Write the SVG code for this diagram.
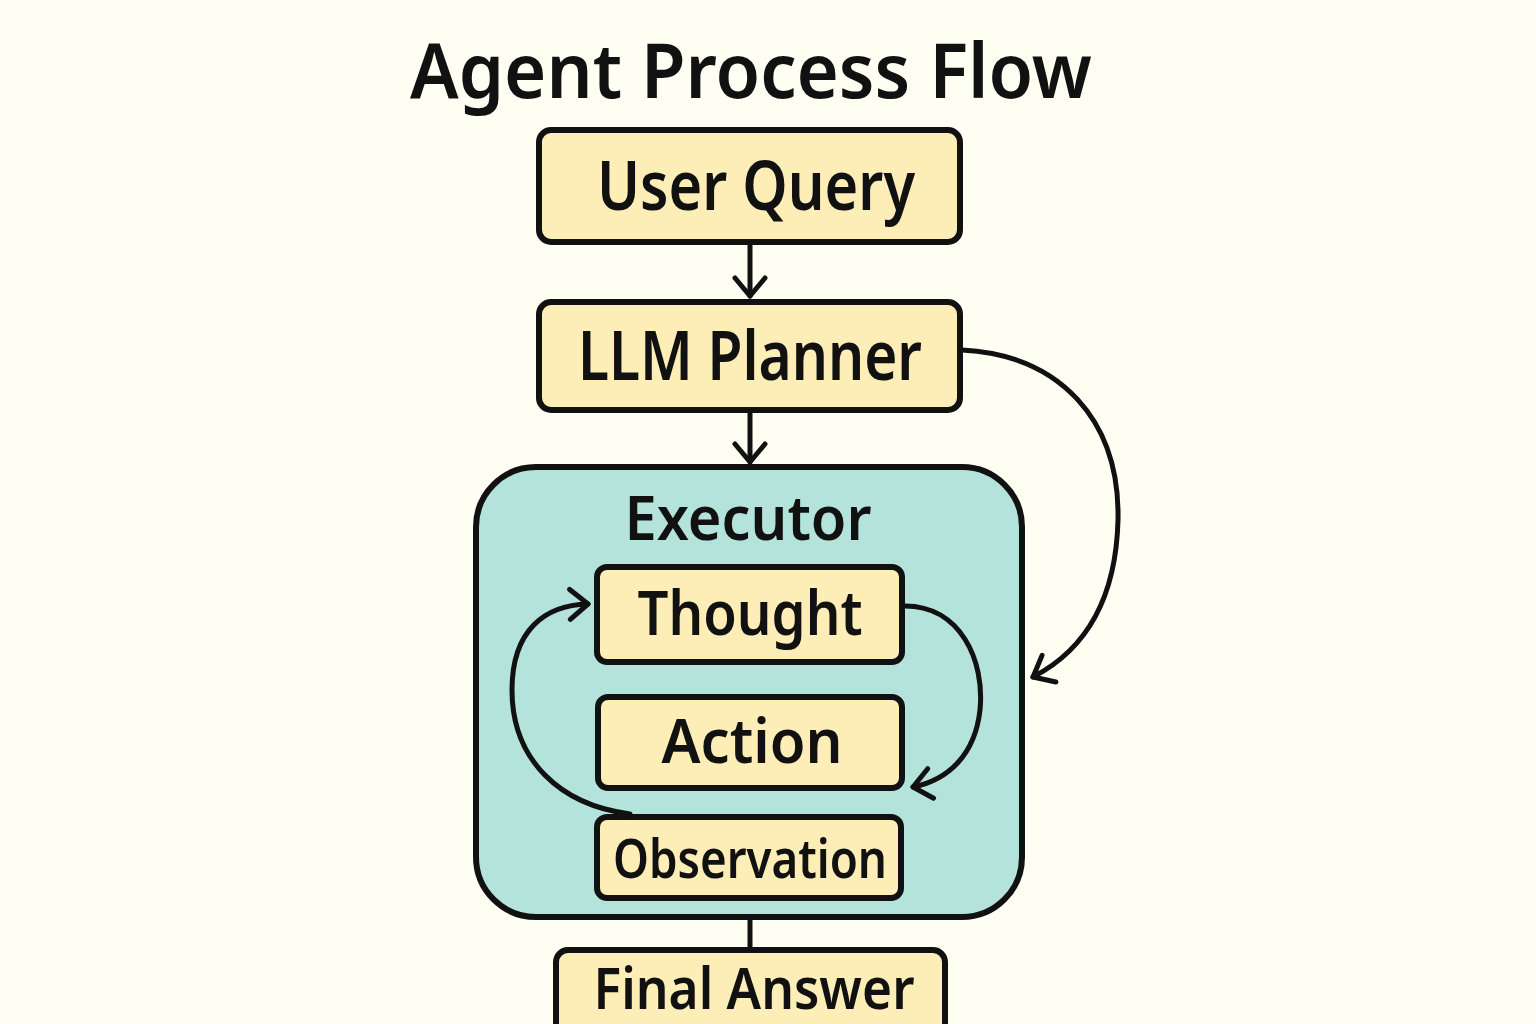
<svg xmlns="http://www.w3.org/2000/svg" width="1536" height="1024" viewBox="0 0 1536 1024">
<defs>
<style>
.box{fill:#FDEDB6;stroke:#111;stroke-width:6}
.exec{fill:#B3E3DA;stroke:#111;stroke-width:6}
.lbl{font-family:"Noto Sans","Open Sans",sans-serif;font-weight:600;fill:#111;text-anchor:middle}
.conn{fill:none;stroke:#111;stroke-width:5;stroke-linecap:round;stroke-linejoin:round}
</style>
<marker id="chev" viewBox="0 0 24 36" refX="21" refY="18" markerWidth="24" markerHeight="36" markerUnits="userSpaceOnUse" orient="auto">
<path d="M3 3 L21 18 L3 33" fill="none" stroke="#111" stroke-width="5" stroke-linecap="round" stroke-linejoin="round"/>
</marker>
</defs>
<rect width="1536" height="1024" fill="#FEFEF3"/>
<text class="lbl" x="751" y="98" font-size="76" font-weight="500" textLength="682" lengthAdjust="spacingAndGlyphs">Agent Process Flow</text>
<g id="user-query">
<rect class="box" x="539" y="130" width="421" height="112" rx="12"/>
<text class="lbl" x="756" y="210" font-size="68" textLength="318" lengthAdjust="spacingAndGlyphs">User Query</text>
</g>
<g id="llm-planner">
<rect class="box" x="539" y="302" width="421" height="108" rx="12"/>
<text class="lbl" x="750" y="380" font-size="68" textLength="344" lengthAdjust="spacingAndGlyphs">LLM Planner</text>
</g>
<g id="executor">
<rect class="exec" x="476" y="467" width="546" height="450" rx="60"/>
<text class="lbl" x="748" y="540" font-size="62" textLength="247" lengthAdjust="spacingAndGlyphs">Executor</text>
</g>
<g id="thought">
<rect class="box" x="597" y="567" width="305" height="95" rx="10"/>
<text class="lbl" x="750" y="635" font-size="62" textLength="225" lengthAdjust="spacingAndGlyphs">Thought</text>
</g>
<g id="action">
<rect class="box" x="598" y="697" width="304" height="91" rx="10"/>
<text class="lbl" x="752" y="763" font-size="62" textLength="181" lengthAdjust="spacingAndGlyphs">Action</text>
</g>
<g id="observation">
<rect class="box" x="597" y="817" width="304" height="81" rx="10"/>
<text class="lbl" x="750" y="878" font-size="54" textLength="274" lengthAdjust="spacingAndGlyphs">Observation</text>
</g>
<g id="final-answer">
<rect class="box" x="556" y="950" width="389" height="100" rx="12"/>
<text class="lbl" x="754" y="1009" font-size="58" textLength="321" lengthAdjust="spacingAndGlyphs">Final Answer</text>
</g>
<g id="connectors">
<path class="conn" d="M750 245 L750 296" marker-end="url(#chev)"/>
<path class="conn" d="M750 413 L750 462" marker-end="url(#chev)"/>
<path class="conn" d="M962 350 C1060 355 1120 420 1118 520 C1116 600 1085 650 1033 677" marker-end="url(#chev)"/>
<path class="conn" d="M905 606 C960 606 985 660 980 710 C975 755 948 780 913 787" marker-end="url(#chev)"/>
<path class="conn" d="M630 814 C560 805 512 760 512 690 C512 630 545 605 588 604" marker-end="url(#chev)"/>
<path class="conn" d="M750 920 L750 947"/>
</g>
</svg>
